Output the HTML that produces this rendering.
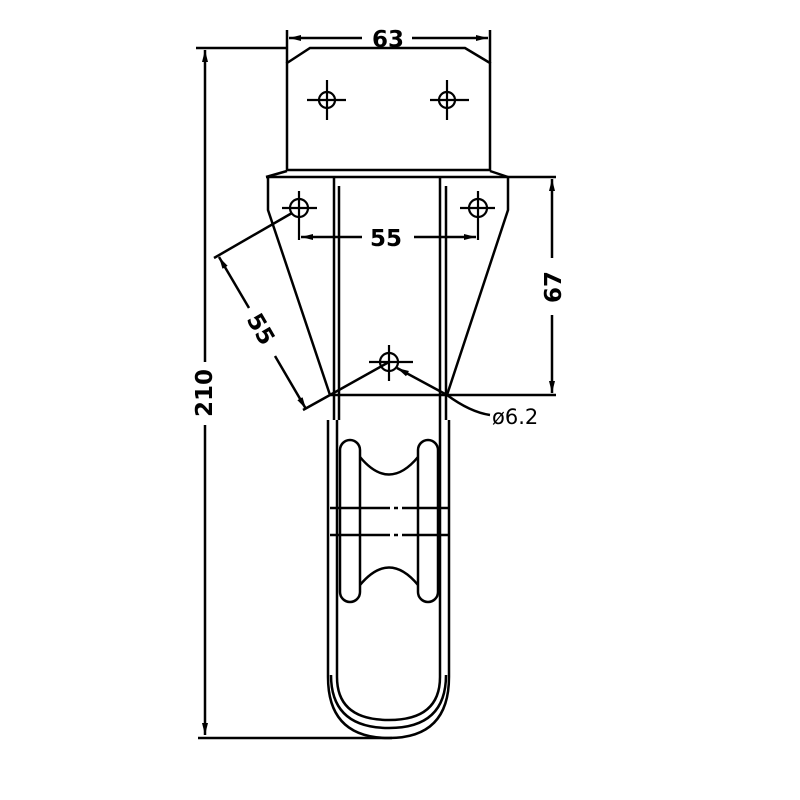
<!DOCTYPE html>
<html><head><style>html,body{margin:0;padding:0;background:#fff;}svg{display:block;}</style></head>
<body>
<svg width="800" height="800" viewBox="0 0 800 800" xmlns="http://www.w3.org/2000/svg">
<defs>
<marker id="a" viewBox="0 0 12 8" refX="12" refY="4" markerWidth="12" markerHeight="8" orient="auto-start-reverse" markerUnits="userSpaceOnUse"><path d="M0,1 L12,4 L0,7 Z" fill="#000"/></marker>
</defs>
<g fill="none" stroke="#000" stroke-width="2.5">
<line x1="287" y1="30" x2="287" y2="63"/><line x1="490" y1="30" x2="490" y2="63"/>
<line x1="289" y1="38" x2="362" y2="38" marker-start="url(#a)"/>
<line x1="412" y1="38" x2="488" y2="38" marker-end="url(#a)"/>
<path d="M287,170 L287,63 L310,48 L465,48 L490,63 L490,170 Z"/>
<path d="M266,177 L287,171 M490,171 L508,177"/>
<line x1="266" y1="177" x2="556" y2="177"/>
<path d="M268,177 L268,210 L330,395 M508,177 L508,210 L447,395"/>
<line x1="330" y1="395" x2="556" y2="395"/>
<line x1="334" y1="177" x2="334" y2="420"/><line x1="339" y1="186" x2="339" y2="420"/>
<line x1="440" y1="177" x2="440" y2="420"/><line x1="446" y1="186" x2="446" y2="420"/>
<g stroke-width="2.2">
<circle cx="327" cy="100" r="8"/><line x1="307" y1="100" x2="346" y2="100"/><line x1="327" y1="80" x2="327" y2="120"/>
<circle cx="447" cy="100" r="8"/><line x1="430" y1="100" x2="469" y2="100"/><line x1="447" y1="80" x2="447" y2="120"/>
<circle cx="299" cy="208" r="9"/><line x1="282" y1="208" x2="317" y2="208"/><line x1="299" y1="191" x2="299" y2="240"/>
<circle cx="478" cy="208" r="9"/><line x1="460" y1="208" x2="495" y2="208"/><line x1="478" y1="191" x2="478" y2="240"/>
<circle cx="389" cy="362" r="9"/><line x1="369" y1="362" x2="413" y2="362"/><line x1="389" y1="345" x2="389" y2="381"/>
</g>
<line x1="301" y1="237" x2="362" y2="237" marker-start="url(#a)"/>
<line x1="414" y1="237" x2="476" y2="237" marker-end="url(#a)"/>
<line x1="552" y1="179" x2="552" y2="258" marker-start="url(#a)"/>
<line x1="552" y1="315" x2="552" y2="393" marker-end="url(#a)"/>
<path d="M330,395 L389,362"/>
<line x1="397" y1="368" x2="447" y2="395" marker-start="url(#a)"/>
<path d="M447,395 Q470,412 490,415"/>
<line x1="292" y1="213" x2="214" y2="258"/>
<line x1="330" y1="395" x2="303" y2="410"/>
<line x1="219" y1="257" x2="249" y2="308" marker-start="url(#a)"/>
<line x1="275" y1="356" x2="306" y2="409" marker-end="url(#a)"/>
<line x1="196" y1="48" x2="287" y2="48"/>
<line x1="205" y1="50" x2="205" y2="362" marker-start="url(#a)"/>
<line x1="205" y1="425" x2="205" y2="735" marker-end="url(#a)"/>
<line x1="198" y1="738" x2="392" y2="738"/>
<path d="M328,420 L328,677 Q328,738 389,738 Q449,738 449,677 L449,420"/>
<path d="M331,675 Q331,728 389,728 Q446,728 446,675"/>
<path d="M337,420 L337,677 Q337,720 389,720 Q440,720 440,677 L440,420"/>
<rect x="340" y="440" width="20" height="162" rx="10"/>
<rect x="418" y="440" width="20" height="162" rx="10"/>
<path d="M360,457 Q389,492 418,457"/>
<path d="M360,585 Q389,550 418,585"/>
<line x1="330" y1="508" x2="448" y2="508" stroke-dasharray="60,4,4,4"/>
<line x1="330" y1="535" x2="448" y2="535" stroke-dasharray="60,4,4,4"/>
</g>
<g font-family="'DejaVu Sans','Liberation Sans',sans-serif" font-weight="bold" font-size="23" fill="#000" text-anchor="middle">
<text x="388" y="47">63</text>
<text x="386" y="246">55</text>
<text x="0" y="0" transform="translate(561,287) rotate(-90)">67</text>
<text x="0" y="0" transform="translate(254,333) rotate(60)">55</text>
<text x="0" y="0" transform="translate(212,393) rotate(-90)">210</text>
</g>
<text x="492" y="424" font-family="'DejaVu Sans','Liberation Sans',sans-serif" font-size="21" fill="#000">ø6.2</text>
</svg>
</body></html>
